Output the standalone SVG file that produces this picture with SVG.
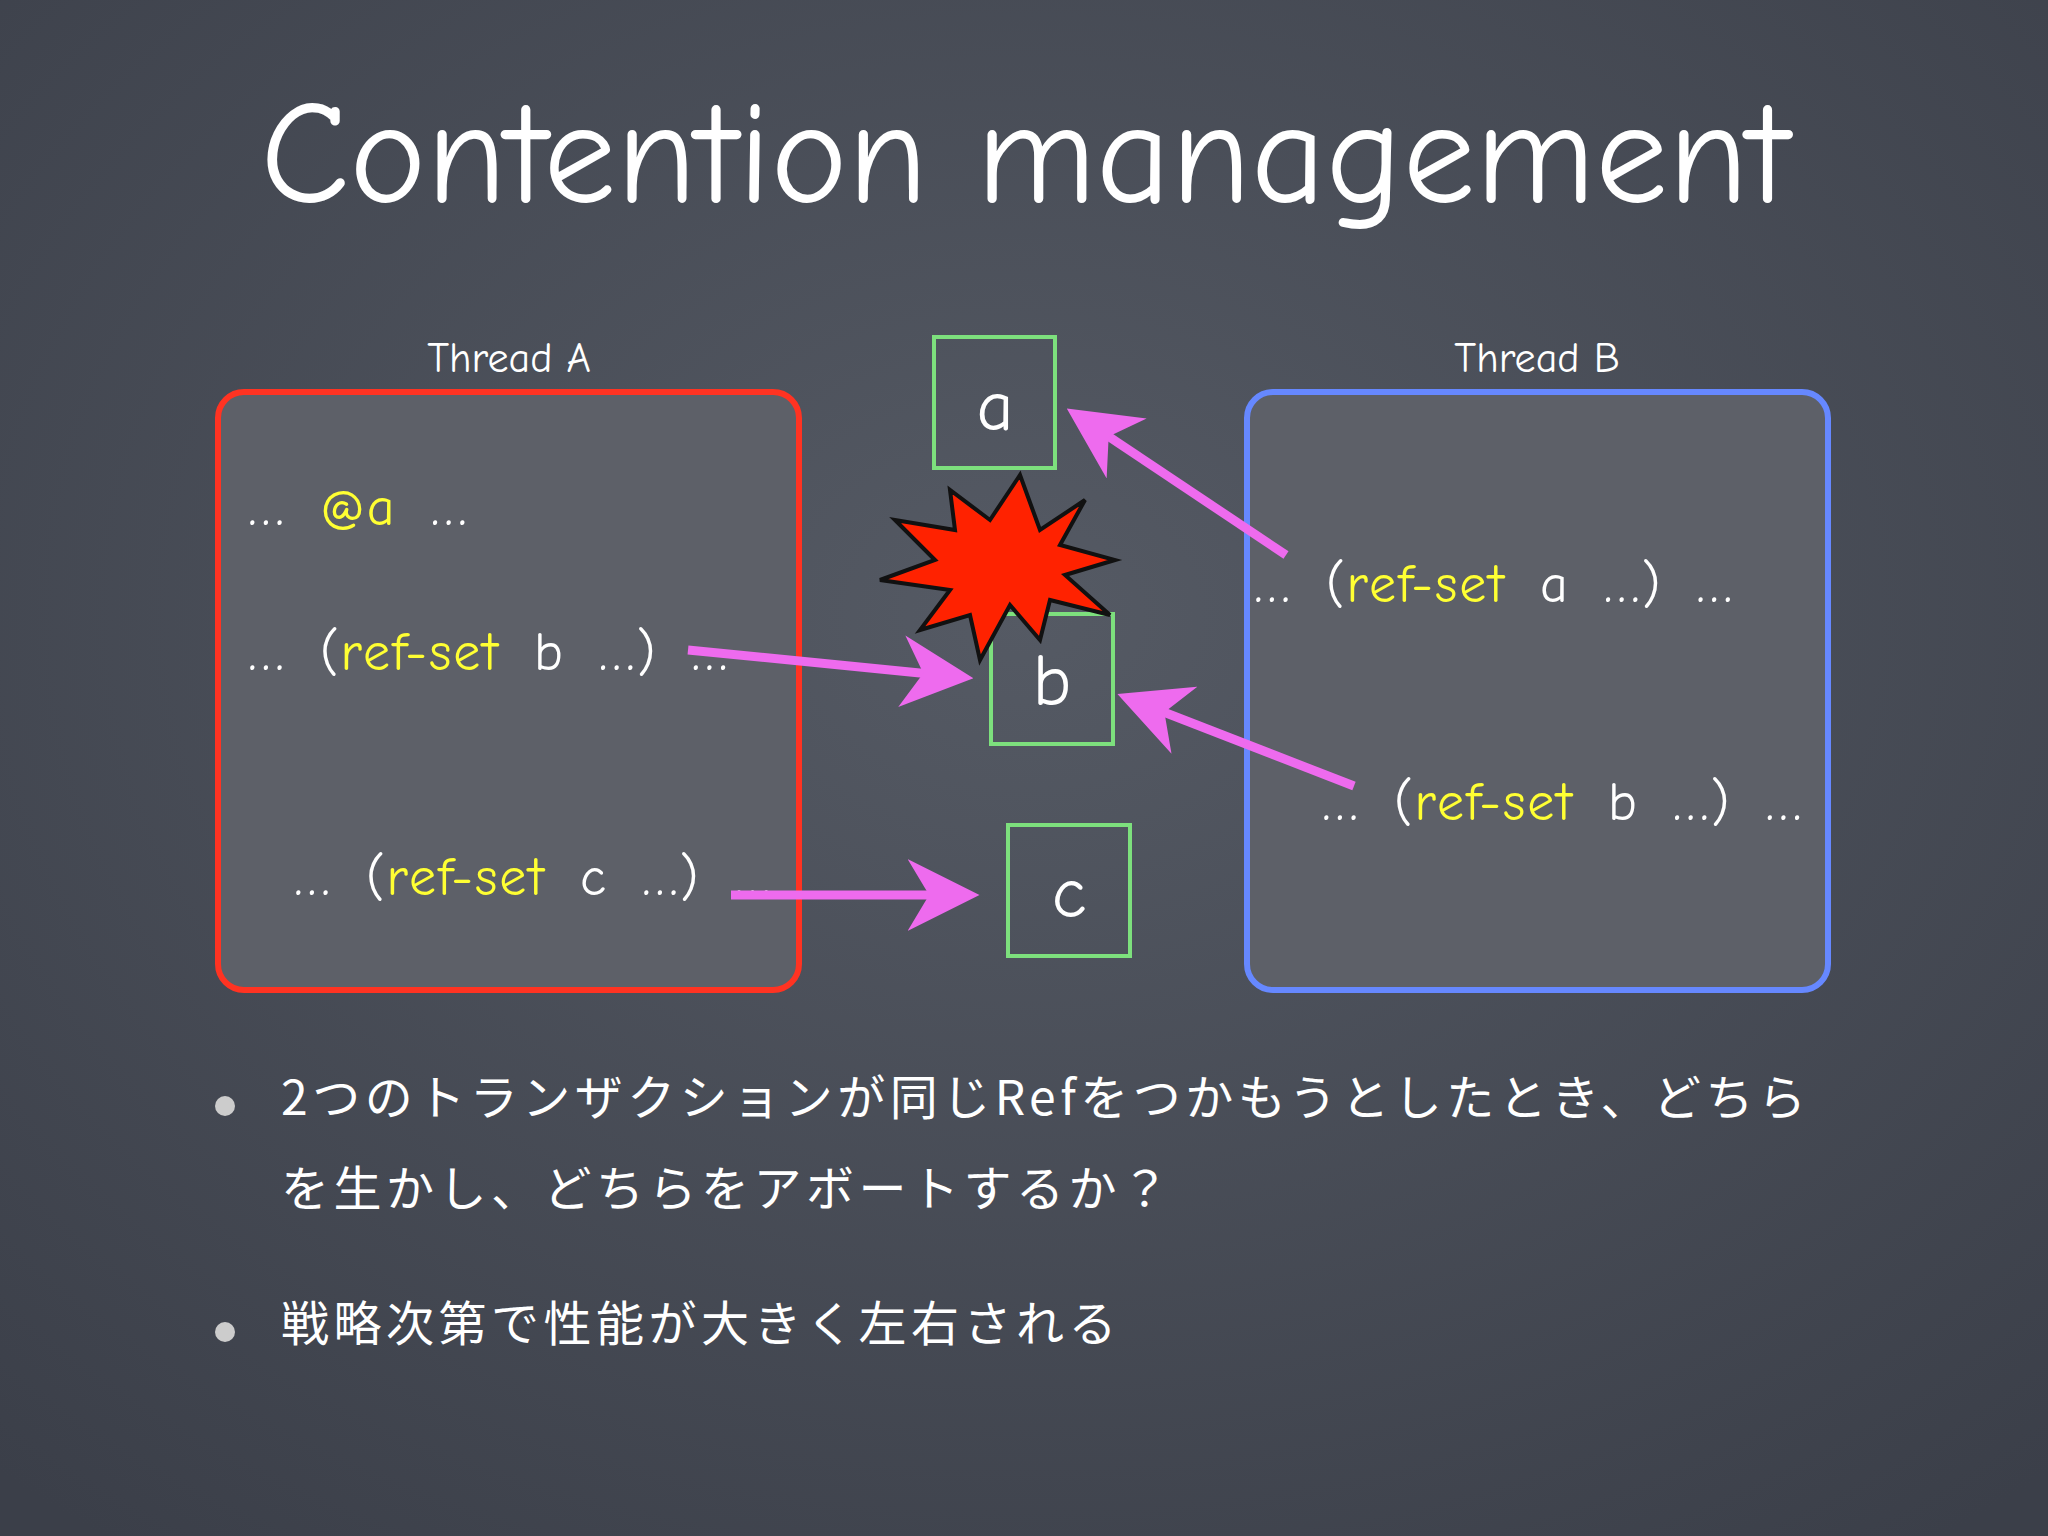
<svg xmlns="http://www.w3.org/2000/svg" width="2048" height="1536" viewBox="0 0 2048 1536">
<defs>
<radialGradient id="bg" cx="50%" cy="40%" r="75%"><stop offset="0" stop-color="#555a64"/><stop offset="1" stop-color="#3b3f49"/></radialGradient>
<marker id="ah" markerWidth="8" markerHeight="8" refX="6.5" refY="4" orient="auto" markerUnits="strokeWidth"><path d="M0,0 L8,4 L0,8 L2.4,4 Z" fill="#ee6bee"/></marker>
<style>
.t{font-family:"Comic Neue","Noto Sans","DejaVu Sans",sans-serif;fill:#fff}
.code{font-size:54px;letter-spacing:2px;word-spacing:14px}
.y{fill:#ffff33}
.box{fill:#5d6068;stroke-width:6}
.node{fill:none;stroke:#7de07d;stroke-width:4}
.conn{stroke:#ee6bee;stroke-width:9;fill:none;marker-end:url(#ah)}
.jp{font-family:"Noto Sans CJK JP",sans-serif;font-size:48px;fill:#fff;letter-spacing:4.5px}
</style>
</defs>
<rect width="2048" height="1536" fill="url(#bg)"/>
<text class="t" x="1025" y="202" font-size="145" text-anchor="middle">Contention management</text>
<g id="threadA">
<text class="t" x="509" y="372" font-size="42" text-anchor="middle">Thread A</text>
<rect class="box" x="218" y="392" width="581" height="598" rx="26" stroke="#ff3322"/>
<text class="t code" x="248" y="525">… <tspan class="y">@a</tspan> …</text>
<text class="t code" x="248" y="670">… (<tspan class="y">ref-set</tspan> b …) …</text>
<text class="t code" x="294" y="895">… (<tspan class="y">ref-set</tspan> c …) …</text>
</g>
<g id="threadB">
<text class="t" x="1537" y="372" font-size="42" text-anchor="middle">Thread B</text>
<rect class="box" x="1247" y="392" width="581" height="598" rx="26" stroke="#6688ff"/>
<text class="t code" x="1254" y="602">… (<tspan class="y">ref-set</tspan> a …) …</text>
<text class="t code" x="1322" y="820">… (<tspan class="y">ref-set</tspan> b …) …</text>
</g>
<g id="a"><rect class="node" x="934" y="337" width="121" height="131"/><text class="t" x="995" y="430" font-size="72" text-anchor="middle">a</text></g>
<g id="b"><rect class="node" x="991" y="614" width="122" height="130"/><text class="t" x="1052" y="705" font-size="72" text-anchor="middle">b</text></g>
<g id="c"><rect class="node" x="1008" y="825" width="122" height="131"/><text class="t" x="1069" y="917" font-size="72" text-anchor="middle">c</text></g>
<g id="burst">
<polygon points="1020,475 1040,530 1085,500 1060,545 1115,560 1065,575 1110,615 1050,600 1040,640 1010,605 980,660 970,615 920,630 950,590 880,580 935,560 895,520 955,530 950,490 990,520" fill="#ff2200" stroke="#111" stroke-width="4"/>
</g>
<g id="connectors">
<line class="conn" x1="688" y1="650" x2="960" y2="677"/>
<line class="conn" x1="1286" y1="555" x2="1078" y2="416"/>
<line class="conn" x1="1354" y1="786" x2="1130" y2="699"/>
<line class="conn" x1="731" y1="895" x2="966" y2="895"/>
</g>
<g id="bullets">
<circle cx="225" cy="1106" r="10" fill="#ccc"/>
<text class="jp" x="281" y="1115">2つのトランザクションが同じRefをつかもうとしたとき、どちら</text>
<text class="jp" x="281" y="1206">を生かし、どちらをアボートするか？</text>
<circle cx="225" cy="1332" r="10" fill="#ccc"/>
<text class="jp" x="281" y="1341">戦略次第で性能が大きく左右される</text>
</g>
</svg>
